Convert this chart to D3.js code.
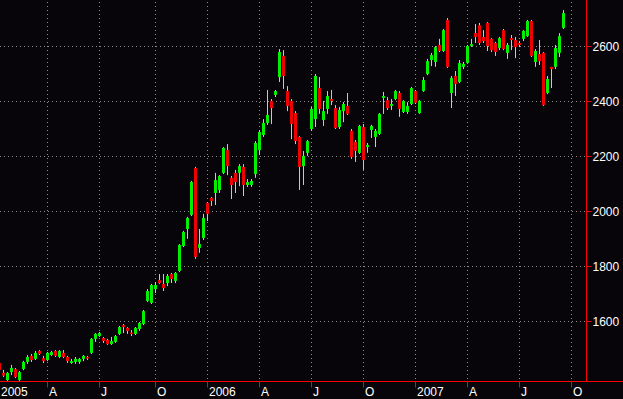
<!DOCTYPE html>
<html>
<head>
<meta charset="utf-8">
<script src="https://cdn.jsdelivr.net/npm/d3@7"></script>
<style>
html,body{margin:0;padding:0;background:#070509;overflow:hidden;}
svg{display:block;}
</style>
</head>
<body>
<script>
// Weekly OHLC candles (index 0 = first visible week, early Jan 2005)
const opens = [
1447,1412,1385,1414,1425,1385,1425,1451,1473,1462,
1491,1465,1458,1476,1491,1469,1484,1469,1447,1451,
1451,1462,1469,1484,1535,1545,1538,1531,1516,1524,
1553,1585,1575,1558,1553,1571,1589,1673,1666,1716,
1749,1735,1738,1771,1746,1782,1873,1935,1986,2157,
1866,1902,2030,2048,2066,2077,2139,2222,2121,2139,
2139,2161,2095,2095,2135,2222,2277,2321,2401,2423,
2488,2565,2437,2401,2357,2270,2164,2212,2299,2335,
2448,2332,2372,2408,2375,2306,2364,2383,2292,2252,
2212,2306,2233,2295,2270,2281,2412,2404,2383,2408,
2430,2361,2361,2390,2437,2357,2437,2499,2550,2543,
2605,2583,2696,2430,2492,2470,2525,2539,2601,2648,
2677,2634,2685,2627,2612,2594,2659,2576,2630,2623,
2612,2627,2637,2692,2543,2572,2576,2430,2525,2525,
2576,2667];
const highs = [
1454,1422,1414,1440,1429,1418,1455,1476,1480,1491,
1494,1473,1487,1491,1494,1494,1494,1473,1462,1469,
1465,1476,1473,1538,1556,1560,1542,1535,1542,1549,
1582,1589,1578,1567,1578,1596,1640,1716,1735,1742,
1771,1771,1771,1775,1778,1880,1928,1979,2110,2161,
1935,1990,2033,2051,2139,2131,2233,2244,2128,2150,
2171,2171,2117,2117,2255,2295,2335,2441,2408,2441,
2590,2586,2455,2408,2364,2273,2219,2259,2379,2499,
2488,2401,2437,2441,2386,2379,2397,2430,2299,2259,
2314,2317,2248,2314,2299,2357,2434,2415,2408,2441,
2437,2404,2397,2452,2441,2404,2488,2554,2576,2601,
2627,2663,2703,2492,2510,2550,2543,2605,2627,2681,
2685,2659,2688,2630,2616,2634,2663,2612,2641,2634,
2619,2659,2696,2696,2590,2623,2579,2492,2525,2605,
2648,2732];
const lows = [
1414,1396,1382,1403,1392,1382,1421,1444,1451,1458,
1476,1447,1454,1473,1469,1465,1465,1447,1444,1444,
1444,1454,1458,1480,1524,1542,1520,1513,1513,1520,
1549,1556,1553,1545,1549,1564,1585,1669,1662,1702,
1735,1709,1727,1738,1738,1778,1869,1899,1982,1826,
1848,1895,1964,2019,2022,2066,2135,2131,2044,2066,
2091,2055,2088,2088,2121,2204,2270,2314,2317,2415,
2470,2445,2364,2262,2244,2077,2095,2201,2292,2306,
2354,2310,2354,2386,2299,2299,2324,2350,2190,2179,
2208,2150,2212,2266,2233,2277,2354,2368,2368,2404,
2343,2357,2354,2386,2390,2354,2434,2495,2528,2525,
2579,2579,2521,2375,2419,2466,2517,2536,2598,2612,
2605,2612,2583,2579,2565,2586,2586,2554,2586,2557,
2597,2619,2634,2561,2525,2532,2383,2426,2448,2517,
2561,2663];
const closes = [
1422,1401,1411,1429,1396,1414,1451,1469,1458,1484,
1480,1454,1484,1487,1473,1491,1469,1454,1454,1462,
1462,1473,1465,1535,1553,1556,1527,1516,1527,1545,
1578,1578,1564,1555,1575,1593,1636,1709,1731,1731,
1738,1720,1764,1753,1775,1877,1924,1975,2106,1833,
1880,1975,1990,2037,2113,2128,2230,2164,2095,2106,
2164,2095,2106,2110,2248,2288,2321,2350,2375,2437,
2579,2492,2383,2317,2255,2161,2201,2255,2372,2492,
2372,2364,2419,2401,2303,2368,2390,2354,2197,2219,
2310,2186,2241,2310,2292,2354,2419,2375,2390,2437,
2372,2401,2383,2448,2394,2401,2477,2546,2568,2597,
2583,2659,2525,2485,2463,2539,2536,2601,2608,2634,
2612,2619,2601,2586,2579,2630,2590,2605,2623,2597,
2605,2656,2692,2565,2583,2546,2386,2481,2517,2594,
2637,2721];

// Quarter tick labels and the week index each one falls on
const tickLabels = ["2005","A","J","O","2006","A","J","O","2007","A","J","O"];
const tickWeeks  = [-1,12,25,39,52,65,78,91,104,117,130,143];
const yTicks = [1600,1800,2000,2200,2400,2600];

const W = 623, H = 399;
const plotRight = 586.5, axisY = 381.5;

const candles = opens.map((o,i)=>({i, o, h:highs[i], l:lows[i], c:closes[i]}));

const x = d3.scaleLinear().domain([0,143]).range([-0.5,571.5]);
const y = d3.scaleLinear().domain([1600,2600]).range([321,46.3]);

const svg = d3.select("body").append("svg").attr("width",W).attr("height",H);
svg.append("rect").attr("width",W).attr("height",H).attr("fill","#070509");

svg.append("defs").append("clipPath").attr("id","plot")
  .append("rect").attr("x",0).attr("y",0).attr("width",586).attr("height",381);

// Grid
const grid = svg.append("g");
grid.selectAll("line.h").data(yTicks).join("line")
  .attr("x1",0).attr("x2",586)
  .attr("y1",d=>Math.round(y(d))+0.5).attr("y2",d=>Math.round(y(d))+0.5)
  .attr("stroke","#8c8c8c").attr("stroke-dasharray","1,3");
grid.selectAll("line.v").data(tickWeeks.filter(w=>x(w)>0)).join("line")
  .attr("x1",d=>Math.floor(x(d))+0.5).attr("x2",d=>Math.floor(x(d))+0.5)
  .attr("y1",2).attr("y2",381)
  .attr("stroke","#8c8c8c").attr("stroke-dasharray","1,3");

// Candles
const plot = svg.append("g").attr("clip-path","url(#plot)");
plot.selectAll("line.wick").data(candles).join("line")
  .attr("x1",d=>Math.floor(x(d.i))+0.5).attr("x2",d=>Math.floor(x(d.i))+0.5)
  .attr("y1",d=>y(d.h)).attr("y2",d=>y(d.l))
  .attr("stroke","#c8c8c8").attr("stroke-width",1);
plot.selectAll("rect.body").data(candles).join("rect")
  .attr("x",d=>Math.floor(x(d.i))-1)
  .attr("width",3)
  .attr("y",d=>Math.min(y(d.o),y(d.c)))
  .attr("height",d=>Math.max(1.5,Math.abs(y(d.o)-y(d.c))))
  .attr("fill",d=>d.c>=d.o?"#00f000":"#f00000");

// Axes lines
svg.append("line").attr("x1",0).attr("x2",W).attr("y1",axisY).attr("y2",axisY)
  .attr("stroke","#ff0000").attr("stroke-width",1);
svg.append("line").attr("x1",plotRight).attr("x2",plotRight).attr("y1",0).attr("y2",axisY)
  .attr("stroke","#ff0000").attr("stroke-width",1);

// Y axis ticks + labels
const ya = svg.append("g");
ya.selectAll("line").data(yTicks).join("line")
  .attr("x1",plotRight).attr("x2",plotRight+5)
  .attr("y1",d=>Math.round(y(d))+0.5).attr("y2",d=>Math.round(y(d))+0.5)
  .attr("stroke","#ff0000");
ya.selectAll("text").data(yTicks).join("text")
  .attr("x",592.5).attr("y",d=>y(d)+4.5)
  .attr("fill","#ffffff").attr("font-family","'Liberation Sans',Arial,sans-serif")
  .attr("font-size",12).text(d=>d);

// X axis ticks + labels
const xa = svg.append("g");
xa.selectAll("line").data(tickWeeks.filter(w=>x(w)>0)).join("line")
  .attr("x1",d=>Math.floor(x(d))+0.5).attr("x2",d=>Math.floor(x(d))+0.5)
  .attr("y1",axisY).attr("y2",axisY+6)
  .attr("stroke","#ff0000");
xa.selectAll("text").data(tickWeeks).join("text")
  .attr("x",d=>Math.max(1,Math.floor(x(d))+2))
  .attr("y",396)
  .attr("fill","#ffffff").attr("font-family","'Liberation Sans',Arial,sans-serif")
  .attr("font-size",12)
  .text((d,i)=>tickLabels[i]);
</script>
</body>
</html>
